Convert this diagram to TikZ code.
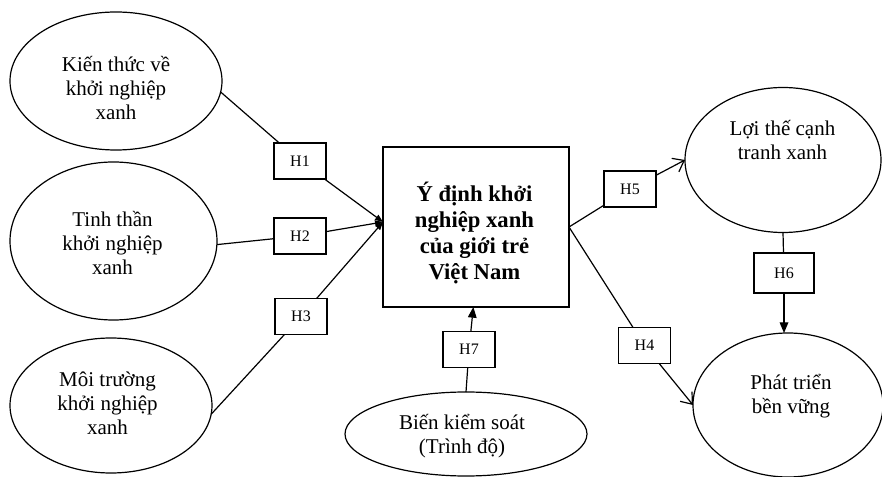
\documentclass[tikz,border=0pt]{standalone}
\usepackage{fontspec}
\setmainfont{Liberation Serif}
\usetikzlibrary{shapes.geometric,arrows.meta}
\begin{document}
\begin{tikzpicture}[x=0.75pt,y=-0.75pt,
  ell/.style={draw,ellipse,line width=0.9pt,inner sep=0pt,outer sep=0pt},
  etxt/.style={align=center,font=\fontsize{15.75}{18}\selectfont,inner sep=0pt},
  mtxt/.style={align=center,font=\fontsize{17}{19.5}\selectfont\bfseries,inner sep=0pt},
  hbox/.style={draw,fill=white,line width=0.9pt,minimum width=39pt,minimum height=27pt,inner sep=0pt,outer sep=0pt,font=\fontsize{12}{14}\selectfont},
  mbox/.style={draw,line width=0.9pt,minimum width=139.5pt,minimum height=120pt,inner sep=0pt,outer sep=0pt},
  conn/.style={line width=0.9pt},
  fillarrow/.style={-{Triangle[length=6pt,width=4.5pt]}},
  bigarrow/.style={-{Triangle[length=8pt,width=6.5pt]}},
  openarrow/.style={-{Straight Barb[length=7.5pt,width=11.5pt,line width=0.9pt]}}
]
\useasboundingbox (0,0) rectangle (882,477);

% ellipses
\node[ell,minimum width=159pt,minimum height=103.5pt] (k1) at (116,81) {};
\node[etxt] (k1t) at (116,88) {Kiến thức về\\khởi nghiệp\\xanh};
\node[ell,minimum width=155.25pt,minimum height=118.5pt] (k2) at (113.5,241) {};
\node[etxt] (k2t) at (112.5,243) {Tinh thần\\khởi nghiệp\\xanh};
\node[ell,minimum width=151.5pt,minimum height=101.25pt] (k3) at (111,405.5) {};
\node[etxt] (k3t) at (107.5,403) {Môi trường\\khởi nghiệp\\xanh};
\node[ell,minimum width=147pt,minimum height=108.75pt] (l) at (783,160) {};
\node[etxt] (lt) at (782.5,140) {Lợi thế cạnh\\tranh xanh};
\node[ell,minimum width=142.5pt,minimum height=108pt] (p) at (788,405) {};
\node[etxt] (pt) at (791,396) {Phát triển\\bền vững};
\node[ell,minimum width=181.5pt,minimum height=63pt] (b) at (466,434) {};
\node[etxt] (bt) at (462,436) {Biến kiểm soát\\(Trình độ)};

% main box
\node[mbox] (m) at (476,227) {};
\node[mtxt] (mt) at (474.5,233) {Ý định khởi\\nghiệp xanh\\của giới trẻ\\Việt Nam};
\coordinate (tip) at (383,222);

% hypothesis boxes
\node[hbox] (h1) at (300,161) {H1};
\node[hbox] (h2) at (300,236) {H2};
\node[hbox] (h3) at (301,316.5) {H3};
\node[hbox] (h5) at (630,189) {H5};
\node[hbox] (h4) at (644.5,345.5) {H4};
\node[hbox,minimum width=45pt,minimum height=30pt] (h6) at (784,273) {H6};
\node[hbox] (h7) at (469,349.5) {H7};

% connectors
\draw[conn] (k1.-6) -- (h1);
\draw[conn,fillarrow] (h1) -- (tip);
\draw[conn] (k2.-2) -- (h2);
\draw[conn,fillarrow] (h2) -- (tip);
\draw[conn] (k3.-5) -- (h3);
\draw[conn,fillarrow] (h3) -- (tip);
\draw[conn] (m.east) -- (h5);
\draw[conn,openarrow] (h5) -- (l.west);
\draw[conn] (m.east) -- (h4);
\draw[conn,openarrow] (h4) -- (p.west);
\draw[conn] (l.south) -- (h6);
\draw[conn,bigarrow] (h6) -- (h6 |- p.north);
\draw[conn] (b.north) -- (h7);
\draw[conn,bigarrow] (h7) -- ([xshift=-2pt]m.south);
\end{tikzpicture}
\end{document}
